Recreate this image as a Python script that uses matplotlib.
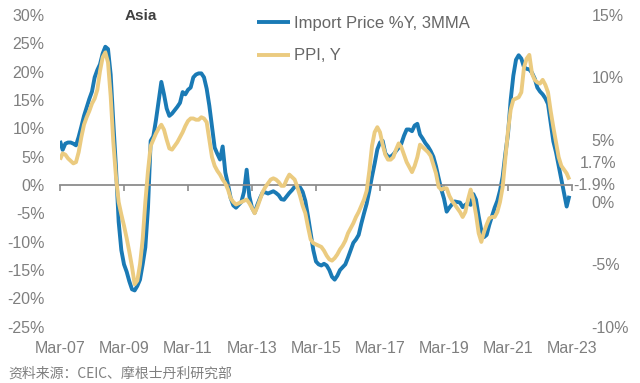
import matplotlib
matplotlib.use('Agg')
import matplotlib.pyplot as plt
import matplotlib.transforms as mtransforms
import numpy as np

plt.rcParams['font.family'] = ['Liberation Sans', 'Noto Sans CJK SC', 'DejaVu Sans']

# Monthly data starting Mar-2007
import_price = [
    7.8, 6.2, 7.3, 7.5, 7.5, 7.3, 7.0, 8.5, 10.3, 12.2, 13.7, 15.2,
    16.5, 19.0, 20.3, 21.3, 23.2, 24.4, 24.0, 19.5, 11.0, 3.0, -6.5, -11.5,
    -14.0, -15.3, -17.0, -18.4, -18.6, -17.8, -16.7, -14.0, -11.0, -4.0, 7.8, 8.6,
    11.5, 14.8, 18.2, 16.0, 13.5, 12.2, 12.6, 13.2, 13.8, 14.5, 16.4, 16.0,
    16.8, 17.2, 19.0, 19.5, 19.7, 19.7, 19.0, 17.0, 14.0, 10.3, 6.6, 5.5,
    4.5, 6.8, 2.2, 0.1, -2.3, -3.6, -4.0, -3.5, -3.0, -1.2, 2.7, -2.0,
    -4.0, -4.9, -3.5, -2.3, -1.3, -1.3, -1.5, -1.3, -1.1, -1.4, -1.8, -2.5,
    -2.6, -2.0, -1.4, -0.9, -0.3, -0.3, -0.4, -1.2, -2.8, -5.5, -8.5, -11.5,
    -13.5, -14.0, -14.2, -13.9, -14.2, -15.0, -16.2, -16.7, -16.0, -15.0, -14.5, -14.0,
    -12.8, -11.5, -10.2, -9.6, -8.8, -6.8, -5.0, -3.3, -1.0, 1.5, 3.8, 6.3,
    7.5, 7.8, 5.6, 5.0, 5.0, 5.4, 6.0, 6.6, 7.3, 8.7, 9.8, 9.8,
    9.5, 10.5, 10.8, 8.9, 8.2, 7.4, 6.8, 6.0, 5.0, 3.3, 1.2, -0.8,
    -2.4, -4.7, -4.0, -3.4, -2.9, -3.0, -3.1, -3.9, -3.5, -3.2, -3.5, -1.6,
    -2.6, -5.5, -8.0, -9.2, -8.8, -7.0, -5.5, -4.0, -2.8, -1.0, 1.5, 5.5,
    9.0, 15.0, 19.3, 22.1, 22.9, 22.3, 20.8, 20.5, 20.4, 19.8, 18.8, 17.2,
    16.5, 16.0, 15.3, 14.3, 11.0, 7.7, 5.8, 3.4, 1.0, -1.4, -3.8, -1.9,
]

ppi = [
    3.4, 3.9, 3.8, 3.5, 3.3, 3.1, 3.2, 4.0, 5.2, 6.2, 6.8, 7.3,
    7.9, 8.3, 9.0, 10.5, 11.6, 12.0, 11.2, 8.5, 4.8, 2.0, 0.0, -1.0,
    -1.9, -2.9, -4.0, -5.2, -6.6, -6.3, -5.0, -3.0, 0.0, 2.5, 4.5, 5.0,
    5.5, 5.9, 6.2, 5.8, 5.0, 4.3, 4.2, 4.5, 4.8, 5.2, 5.6, 6.1,
    6.5, 6.7, 6.7, 6.6, 6.6, 6.8, 6.7, 6.4, 5.0, 3.6, 2.9, 2.5,
    2.2, 1.8, 1.5, 1.0, 0.3, 0.0, -0.2, -0.1, 0.0, 0.1, 0.2, -0.1,
    -0.5, -0.9, -0.4, 0.2, 0.8, 1.2, 1.5, 1.8, 1.9, 1.8, 1.6, 1.3,
    1.3, 1.8, 2.2, 2.0, 1.8, 1.2, 0.5, -0.3, -0.9, -2.0, -3.0, -3.3,
    -3.4, -3.5, -3.6, -3.9, -4.3, -4.6, -4.7, -4.5, -4.2, -3.8, -3.5, -3.1,
    -2.5, -2.1, -1.7, -1.2, -0.8, -0.3, 0.2, 0.9, 2.5, 4.5, 5.6, 6.0,
    5.6, 4.6, 3.8, 3.4, 3.4, 3.6, 4.2, 4.7, 4.4, 3.8, 3.2, 2.8,
    2.4, 2.9, 3.6, 4.6, 4.4, 4.2, 4.0, 3.7, 3.0, 2.3, 1.2, 1.0,
    1.1, 1.1, 0.5, 0.1, -0.2, -0.5, -0.8, -1.2, -0.8, 0.2, 1.0, 0.2,
    -1.0, -2.5, -3.2, -2.4, -1.8, -1.3, -1.2, -1.2, -0.8, 0.0, 1.2, 3.5,
    5.7, 7.4, 8.2, 8.3, 8.4, 8.8, 10.8, 11.5, 11.8, 10.3, 9.8, 9.6,
    9.5, 9.8, 9.4, 8.8, 7.3, 6.0, 4.8, 3.6, 2.9, 2.6, 2.3, 1.8,
]

x_tick_labels = ['Mar-07', 'Mar-09', 'Mar-11', 'Mar-13', 'Mar-15',
                 'Mar-17', 'Mar-19', 'Mar-21', 'Mar-23']
left_ticks = [30, 25, 20, 15, 10, 5, 0, -5, -10, -15, -20, -25]
right_ticks = [15, 10, 5, 0, -5, -10]
end_labels = ['1.7%', '-1.9%']
end_label_pos = [3.1, 1.3]   # right-axis positions of the end labels

BLUE = '#1A7AB5'
GOLD = '#EBCB80'
GRAY = '#7F7F7F'
AXIS_GRAY = '#8C8C8C'

months = np.arange(len(import_price))
tick_pos = np.arange(0, 24 * len(x_tick_labels), 24)

fig = plt.figure(figsize=(6.4, 3.83), dpi=100)
ax = fig.add_axes([60 / 640, 1 - 326.7 / 383, 512 / 640, (326.7 - 15) / 383])

l1, = ax.plot(months, import_price, color=BLUE, lw=2.8, solid_capstyle='butt',
              label='Import Price %Y, 3MMA')
ax2 = ax.twinx()
l2, = ax2.plot(months, ppi, color=GOLD, lw=2.8, solid_capstyle='butt', label='PPI, Y')

ax.set_xlim(0, 192)
ax.set_ylim(-25, 30)
ax2.set_ylim(-10, 15)

ax.set_yticks(left_ticks)
ax.set_yticklabels([f'{v}%' for v in left_ticks])
ax2.set_yticks(right_ticks)
ax2.set_yticklabels([f'{v}%' for v in right_ticks])

for s in ['top', 'left', 'right']:
    ax.spines[s].set_visible(False)
for s in ax2.spines.values():
    s.set_visible(False)
ax.spines['bottom'].set_position(('data', 0))
ax.spines['bottom'].set_color(AXIS_GRAY)
ax.spines['bottom'].set_linewidth(1.3)
ax.set_xticks(tick_pos)
ax.tick_params(axis='x', direction='out', length=4, width=1.2, color=AXIS_GRAY,
               labelbottom=False)
ax.tick_params(axis='y', length=0, pad=11, labelsize=11.5, labelcolor=GRAY)
ax2.tick_params(axis='y', length=0, pad=14, labelsize=11.5, labelcolor=GRAY)

sec = ax.secondary_xaxis('bottom')
sec.set_xticks(tick_pos)
sec.set_xticklabels(x_tick_labels)
sec.tick_params(length=0, pad=10.5, labelsize=11.5, labelcolor=GRAY)
sec.spines['bottom'].set_visible(False)

trans = mtransforms.blended_transform_factory(ax2.transAxes, ax2.transData)
ax2.text(1.015, end_label_pos[0], end_labels[0], transform=trans, ha='left',
         va='center', fontsize=11.5, color=GRAY)
ax2.text(1.002, end_label_pos[1], end_labels[1], transform=trans, ha='left',
         va='center', fontsize=11.5, color=GRAY)

fig.text(141 / 640, 1 - 16 / 383, 'Asia', ha='center', va='center',
         fontsize=11, fontweight='bold', color='#404040')

leg = fig.legend([l1, l2], [l1.get_label(), l2.get_label()], loc='upper left',
                 bbox_to_anchor=(257 / 640, 1 - 16 / 383), frameon=False,
                 fontsize=12, handlelength=2.0, handletextpad=0.2,
                 labelspacing=1.05, borderpad=0, borderaxespad=0)
for t in leg.get_texts():
    t.set_color('#666666')

fig.text(8 / 640, 1 - 374 / 383, '资料来源：CEIC、摩根士丹利研究部', ha='left',
         va='center', fontsize=10, color=GRAY,
         family=['Noto Sans CJK SC', 'DejaVu Sans'])

fig.savefig('out.png', dpi=100)
